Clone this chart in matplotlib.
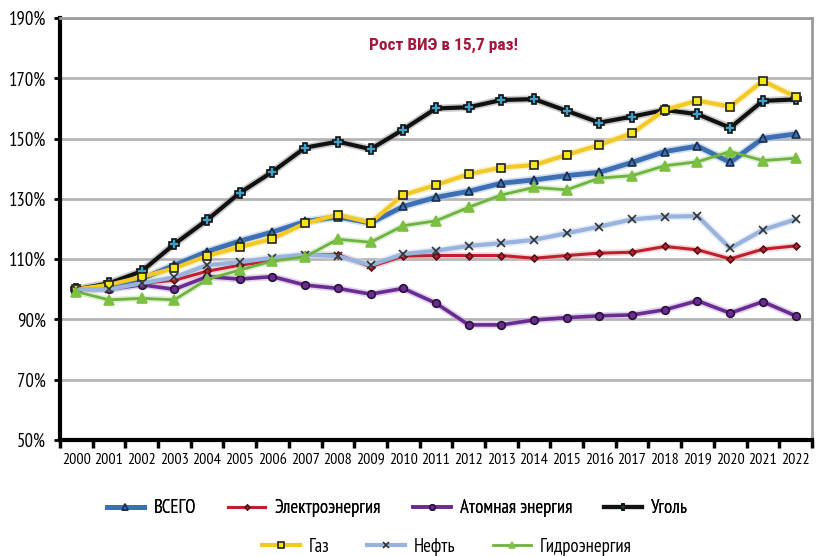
import numpy as np
import matplotlib
matplotlib.use('Agg')
import matplotlib.pyplot as plt

plt.rcParams['font.family'] = ['PT Sans Narrow', 'DejaVu Sans']

years = [str(y) for y in range(2000, 2023)]

vsego = [100, 101, 103.5, 108, 112.5, 116, 119, 122.5, 124, 122, 127.5, 130.5, 132.5,
         135.2, 136.3, 137.7, 138.8, 142.1, 145.7, 147.5, 142.1, 150.1, 151.5]
elektro = [100, 100, 102, 103, 106, 108, 109.5, 111.5, 111.5, 107.5, 111, 111.2, 111.2,
           111.2, 110.3, 111.2, 112, 112.3, 114.2, 113.1, 110.1, 113.3, 114.4]
atom = [100, 100, 101.5, 100, 104.2, 103.4, 104.2, 101.4, 100.3, 98.4, 100.3, 95.4, 88.2,
        88.2, 89.8, 90.6, 91.2, 91.5, 93.2, 96.2, 92.1, 95.9, 91.2]
ugol = [100, 102, 106, 115, 123, 132, 139, 147, 149, 146.5, 153, 160, 160.4,
        162.8, 163.1, 159.2, 155.3, 157.3, 159.5, 158.1, 153.6, 162.5, 163]
gaz = [100, 101.5, 104.1, 107, 111.1, 114, 116.8, 121.9, 124.7, 122.1, 131.3, 134.6, 138.2,
       140.4, 141.2, 144.6, 147.9, 151.8, 159.5, 162.6, 160.6, 169.1, 163.9]
neft = [100, 100, 102, 104, 108, 109, 110.5, 111.5, 111, 108, 111.7, 112.8, 114.4,
        115.3, 116.4, 118.6, 120.8, 123.2, 124.1, 124.3, 113.6, 119.7, 123.2]
gidro = [99.2, 96.5, 97, 96.5, 103.3, 106.4, 109.4, 110.8, 116.6, 115.6, 121.1, 122.7, 127.2,
         131.3, 133.8, 133, 136.9, 137.7, 141, 142.3, 145.7, 142.7, 143.5]

# label, data, line colour, halo colour, linewidth, marker, marker face, marker edge, size
series = [
    ('ВСЕГО', vsego, '#3d6fb4', '#a9c0e2', 3.5, '^', '#3d6fb4', '#1c2d4a', 5.5),
    ('Электроэнергия', elektro, '#c0202e', '#eab0b4', 2.2, 'D', '#c0202e', '#5a1015', 3.5),
    ('Атомная энергия', atom, '#6a2c91', '#c3a8d8', 2.6, 'o', '#6a2c91', '#2a1238', 5.5),
    ('Уголь', ugol, '#111111', '#999999', 3.0, 'P', '#3fa0c8', '#111111', 6.5),
    ('Газ', gaz, '#f2c925', '#f8e6a0', 3.0, 's', '#f5e614', '#222222', 6),
    ('Нефть', neft, '#98b3dc', '#d0ddf0', 3.0, 'x', '#333333', '#333333', 5.5),
    ('Гидроэнергия', gidro, '#6db33f', '#c0dea8', 2.0, '^', '#7cc043', '#7cc043', 7),
]

fig = plt.figure(figsize=(8.16, 5.56), dpi=100)
ax = fig.add_axes([0.0735, 0.2086, 0.9215, 0.759])

x = np.arange(len(years))
handles = []
for label, data, col, halo, lw, mk, mfc, mec, ms in series:
    # halo under the line only, markers drawn clean on top
    ax.plot(x, data, color=halo, lw=lw + 2.5, alpha=0.5, zorder=2,
            solid_capstyle='round', solid_joinstyle='round')
    ln, = ax.plot(x, data, color=col, lw=lw, marker=mk, markerfacecolor=mfc,
                  markeredgecolor=mec, markersize=ms, markeredgewidth=1.2,
                  label=label, zorder=3)
    handles.append(ln)

ax.set_xlim(-0.5, len(years) - 0.5)
ax.set_ylim(50, 190)
ax.set_yticks(np.arange(50, 191, 20))
ax.set_yticklabels([f'{v}%' for v in range(50, 191, 20)], fontsize=13.5)
ax.yaxis.grid(True, color='#b5b5b5', lw=2)
ax.set_axisbelow(True)

ax.set_xticks(np.arange(-0.5, len(years), 1))
ax.set_xticklabels([])
ax.set_xticks(x, minor=True)
ax.set_xticklabels(years, minor=True, fontsize=11.5)
ax.tick_params(axis='x', which='major', length=6, width=2.5, color='black')
ax.tick_params(axis='x', which='minor', length=0, pad=9)
ax.tick_params(axis='y', length=4, width=2, pad=6)

for side in ['left', 'bottom']:
    ax.spines[side].set_linewidth(3)
    ax.spines[side].set_color('black')
for side in ['top', 'right']:
    ax.spines[side].set_linewidth(2)
    ax.spines[side].set_color('#9a9a9a')

ax.text(0.51, 0.935, 'Рост ВИЭ в 15,7 раз!', transform=ax.transAxes, ha='center',
        va='center', fontsize=12.5, fontweight='bold', color='#a3173a',
        family=['Roboto Condensed', 'DejaVu Sans'])

leg1 = fig.legend(handles[:4], [h.get_label() for h in handles[:4]], loc='center',
                  bbox_to_anchor=(0.487, 0.086), ncol=4, frameon=False, fontsize=13.5,
                  handlelength=2.0, handletextpad=0.5, columnspacing=1.7, markerscale=0.7)
fig.add_artist(leg1)
fig.legend(handles[4:], [h.get_label() for h in handles[4:]], loc='center',
           bbox_to_anchor=(0.548, 0.017), ncol=3, frameon=False, fontsize=13.5,
           handlelength=2.0, handletextpad=0.5, columnspacing=2.0, markerscale=0.7)

fig.savefig('out.png', dpi=100)
